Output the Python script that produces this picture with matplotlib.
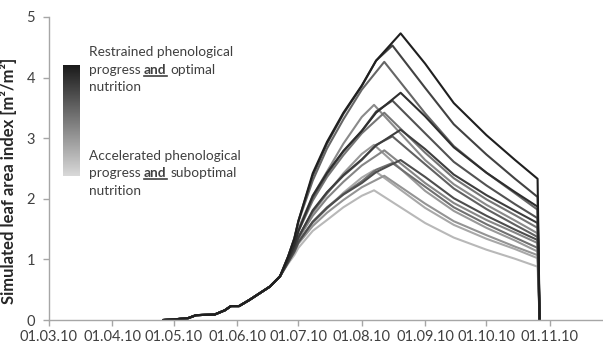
import matplotlib
matplotlib.use('Agg')
import matplotlib.pyplot as plt
import matplotlib.dates as mdates
import numpy as np
import pandas as pd
from matplotlib.colors import LinearSegmentedColormap
from matplotlib.lines import Line2D

plt.rcParams['font.family'] = ['Lato', 'DejaVu Sans']

# emergence and early growth, identical for all runs
early_dates = ['2010-04-26', '2010-05-01', '2010-05-08', '2010-05-12', '2010-05-21',
               '2010-05-26', '2010-05-29', '2010-06-02', '2010-06-07', '2010-06-12',
               '2010-06-17', '2010-06-22']
early_lai = [0.0, 0.01, 0.03, 0.08, 0.09, 0.16, 0.23, 0.23, 0.33, 0.44, 0.55, 0.72]

# phenology settings, restrained (1) -> accelerated (4)
peak_dates = ['2010-08-20', '2010-08-16', '2010-08-12', '2010-08-07']
rise_dates_long = ['2010-06-26', '2010-06-29', '2010-07-01', '2010-07-08', '2010-07-15',
                   '2010-07-23', '2010-08-01', '2010-08-08']
rise_dates_short = ['2010-06-26', '2010-06-29', '2010-07-01', '2010-07-08', '2010-07-15',
                    '2010-07-23', '2010-08-01']
fall_dates = ['2010-09-01', '2010-09-15', '2010-10-01', '2010-10-15', '2010-10-26']
harvest_date = '2010-10-27'

# rows: nutrition optimal -> suboptimal
rise_p1 = [[1.05, 1.34, 1.63, 2.42, 2.94, 3.42, 3.87, 4.28],
           [1.00, 1.24, 1.47, 2.05, 2.43, 2.79, 3.12, 3.42],
           [0.98, 1.18, 1.36, 1.81, 2.11, 2.39, 2.65, 2.88],
           [0.95, 1.13, 1.28, 1.62, 1.85, 2.07, 2.26, 2.44]]
rise_p2 = [[1.05, 1.35, 1.64, 2.38, 2.91, 3.40, 3.86, 4.28],
           [1.00, 1.24, 1.47, 2.02, 2.41, 2.78, 3.12, 3.44],
           [0.98, 1.18, 1.37, 1.79, 2.10, 2.38, 2.64, 2.89],
           [0.96, 1.13, 1.29, 1.62, 1.86, 2.08, 2.29, 2.48]]
rise_p3 = [[1.05, 1.34, 1.62, 2.30, 2.83, 3.31, 3.80],
           [1.00, 1.24, 1.46, 1.97, 2.36, 2.72, 3.08],
           [0.97, 1.16, 1.34, 1.72, 2.01, 2.28, 2.55],
           [0.95, 1.11, 1.26, 1.55, 1.77, 1.98, 2.19]]
rise_p4 = [[1.02, 1.27, 1.51, 2.05, 2.45, 2.91, 3.35],
           [0.98, 1.19, 1.38, 1.77, 2.08, 2.42, 2.74],
           [0.96, 1.13, 1.29, 1.60, 1.84, 2.10, 2.35],
           [0.93, 1.07, 1.19, 1.47, 1.65, 1.86, 2.05]]

peak_p1 = [4.73, 3.75, 3.14, 2.64]
peak_p2 = [4.53, 3.62, 3.03, 2.59]
peak_p3 = [4.26, 3.42, 2.80, 2.38]
peak_p4 = [3.55, 2.89, 2.47, 2.14]

fall_p1 = [[4.23, 3.58, 3.05, 2.64, 2.33], [3.36, 2.85, 2.43, 2.11, 1.87],
           [2.82, 2.40, 2.06, 1.80, 1.60], [2.36, 2.01, 1.72, 1.49, 1.32]]
fall_p2 = [[3.83, 3.23, 2.73, 2.33, 2.03], [3.08, 2.61, 2.22, 1.91, 1.68],
           [2.57, 2.17, 1.83, 1.57, 1.37], [2.20, 1.86, 1.58, 1.36, 1.19]]
fall_p3 = [[3.41, 2.87, 2.43, 2.09, 1.82], [2.76, 2.34, 1.99, 1.73, 1.52],
           [2.26, 1.93, 1.65, 1.44, 1.27], [1.92, 1.63, 1.40, 1.21, 1.07]]
fall_p4 = [[2.64, 2.24, 1.90, 1.64, 1.43], [2.13, 1.80, 1.52, 1.31, 1.13],
           [1.85, 1.57, 1.34, 1.17, 1.02], [1.60, 1.36, 1.16, 1.01, 0.88]]

x_ticks = ['2010-03-01', '2010-04-01', '2010-05-01', '2010-06-01', '2010-07-01',
           '2010-08-01', '2010-09-01', '2010-10-01', '2010-11-01']

rises = [rise_p1, rise_p2, rise_p3, rise_p4]
peaks = [peak_p1, peak_p2, peak_p3, peak_p4]
falls = [fall_p1, fall_p2, fall_p3, fall_p4]
rise_dates = [rise_dates_long, rise_dates_long, rise_dates_short, rise_dates_short]

fig = plt.figure(figsize=(6.03, 3.43), dpi=100)
ax = fig.add_axes([49 / 603, 23 / 343, 554 / 603, 303 / 343])

runs = []
for p in range(4):
    for n in range(4):
        d = early_dates + rise_dates[p] + [peak_dates[p]] + fall_dates + [harvest_date]
        v = early_lai + rises[p][n] + [peaks[p][n]] + falls[p][n] + [0.0]
        g = 0.12 + 0.14 * p + 0.06 * n
        runs.append((g, pd.to_datetime(d), v))

# lighter runs first so the dark ones sit on top
for g, d, v in sorted(runs, key=lambda r: -r[0]):
    ax.plot(d, v, color=(g, g, g), lw=1.5, solid_joinstyle='round')

ax.set_xlim(pd.Timestamp('2010-03-01'), pd.Timestamp('2010-11-27'))
ax.set_ylim(0, 5)
ax.set_xticks(pd.to_datetime(x_ticks))
ax.xaxis.set_major_formatter(mdates.DateFormatter('%d.%m.%y'))
ax.set_yticks([0, 1, 2, 3, 4, 5])

for s in ['top', 'right']:
    ax.spines[s].set_visible(False)
for s in ['left', 'bottom']:
    ax.spines[s].set_color('#a6a6a6')
    ax.spines[s].set_linewidth(1.0)
ax.tick_params(colors='#a6a6a6', labelcolor='#404040', labelsize=10.5, length=4, width=1.0)
ax.tick_params(axis='x', pad=3.5)
ax.tick_params(axis='y', pad=6)

ax.set_ylabel('Simulated leaf area index [m²/m²]', fontsize=12, fontweight='bold', color='#262626')
ax.yaxis.set_label_coords(-0.058, 0.46)

# gradient key
cmap = LinearSegmentedColormap.from_list('key', ['#1a1a1a', '#d9d9d9'])
kax = fig.add_axes([63 / 603, 1 - 176 / 343, 17 / 603, 111 / 343])
kax.imshow(np.linspace(0, 1, 256).reshape(-1, 1), aspect='auto', cmap=cmap)
kax.axis('off')

renderer = fig.canvas.get_renderer()
W, H = fig.bbox.width, fig.bbox.height
key_size = 9.8


def width_of(s, weight):
    t = fig.text(0, 0, s, fontsize=key_size, fontweight=weight)
    w = t.get_window_extent(renderer).width
    t.remove()
    return w


space_w = width_of('a a', 'normal') - width_of('aa', 'normal')


def key_line(parts, x_px, base_px):
    x = x_px
    for i, (s, bold) in enumerate(parts):
        if i > 0:
            x += space_w
        weight = 'bold' if bold else 'normal'
        t = fig.text(x / W, 1 - base_px / H, s, fontsize=key_size, fontweight=weight,
                     color='#404040', va='baseline')
        w = t.get_window_extent(renderer).width
        if bold:
            yl = 1 - (base_px + 2) / H
            fig.add_artist(Line2D([x / W, (x + w) / W], [yl, yl], transform=fig.transFigure,
                                  color='#404040', lw=1.2))
        x += w


key_line([('Restrained phenological', False)], 89, 56)
key_line([('progress', False), ('and', True), ('optimal', False)], 89, 74)
key_line([('nutrition', False)], 89, 91)
key_line([('Accelerated phenological', False)], 89, 160)
key_line([('progress', False), ('and', True), ('suboptimal', False)], 89, 177)
key_line([('nutrition', False)], 89, 195)

fig.savefig('out.png', dpi=100)
